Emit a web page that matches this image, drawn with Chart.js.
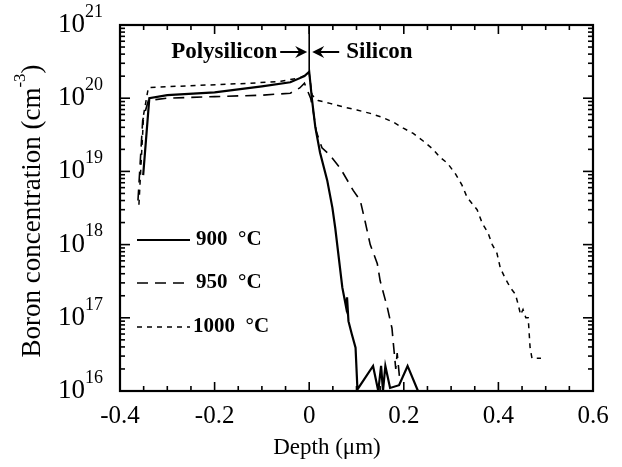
<!DOCTYPE html>
<html><head><meta charset="utf-8">
<script src="https://cdn.jsdelivr.net/npm/chart.js@4.4.0/dist/chart.umd.min.js"></script>
<style>html,body{margin:0;padding:0;background:#fff;} canvas{display:block;}</style>
</head><body>
<canvas id="c" width="622" height="467"></canvas>
<script>
// ---- data ----
const depth900 = [-0.351, -0.338, -0.3, -0.2, -0.1, -0.04, -0.01, 0, 0.006, 0.013, 0.023, 0.038, 0.049, 0.055, 0.07, 0.078, 0.08, 0.083, 0.09, 0.098, 0.102, 0.135, 0.146, 0.152, 0.156, 0.161, 0.171, 0.19, 0.208, 0.23];
const conc900  = [8.9e18, 1.0e20, 1.1e20, 1.2e20, 1.45e20, 1.65e20, 2.0e20, 2.3e20, 9.5e19, 4e19, 1.8e19, 7.6e18, 3.2e18, 1.7e18, 2.6e17, 1.4e17, 1.9e17, 9e16, 6e16, 3.9e16, 1.05e16, 2.2e16, 1.0e16, 2.2e16, 1.0e16, 2.2e16, 1.1e16, 1.2e16, 2.2e16, 1.0e16];

const depth950 = [-0.362, -0.352, -0.34, -0.3, -0.2, -0.1, -0.04, -0.02, -0.01, 0.003, 0.008, 0.015, 0.027, 0.044, 0.066, 0.093, 0.108, 0.118, 0.129, 0.144, 0.150, 0.165, 0.175, 0.178, 0.183, 0.186, 0.192];
const conc950  = [4e18, 5e19, 9.3e19, 1.0e20, 1.05e20, 1.1e20, 1.17e20, 1.38e20, 1.6e20, 1.0e20, 7e19, 3.5e19, 2.1e19, 1.66e19, 1.1e19, 5.5e18, 4e18, 2.1e18, 1.0e18, 5.5e17, 3.2e17, 1.4e17, 7.2e16, 4.4e16, 2.0e16, 3.3e16, 1.3e16];

const depth1000 = [-0.36, -0.35, -0.34, -0.23, -0.125, -0.06, -0.02, 0, 0.006, 0.019, 0.044, 0.072, 0.101, 0.129, 0.154, 0.178, 0.199, 0.220, 0.241, 0.262, 0.277, 0.292, 0.309, 0.323, 0.334, 0.355, 0.366, 0.378, 0.387, 0.397, 0.404, 0.414, 0.425, 0.436, 0.442, 0.447, 0.452, 0.458, 0.463, 0.467, 0.471, 0.484, 0.49];
const conc1000  = [3.5e18, 6e19, 1.4e20, 1.5e20, 1.6e20, 1.7e20, 1.9e20, 2.2e20, 1.1e20, 9.3e19, 8.5e19, 7.6e19, 6.9e19, 6.2e19, 5.5e19, 4.7e19, 3.9e19, 3.3e19, 2.6e19, 2.0e19, 1.55e19, 1.3e19, 9.3e18, 6.5e18, 4.4e18, 3.0e18, 1.95e18, 1.45e18, 1.0e18, 7.6e17, 4.8e17, 3.5e17, 2.6e17, 2.1e17, 1.5e17, 1.1e17, 1.3e17, 1.0e17, 1.0e17, 3.9e16, 2.8e16, 2.8e16, 2.8e16];

const seriesLabels = ['900  °C', '950  °C', '1000  °C'];
const xTickValues = [-0.4, -0.2, 0, 0.2, 0.4, 0.6];
const xTickLabels = ['-0.4', '-0.2', '0', '0.2', '0.4', '0.6'];
const yExponents = [16, 17, 18, 19, 20, 21];
const regionLabels = ['Polysilicon', 'Silicon'];
const xTitle = 'Depth (\u03BCm)';
const yTitleParts = ['Boron concentration (cm', '-3', ')'];

const toPts = (xs, ys) => xs.map((v, i) => ({x: v, y: ys[i]}));
const SERIF = '"Liberation Serif", "DejaVu Serif", serif';

const decor = {
  id: 'decor',
  afterDraw(chart) {
    const {ctx, chartArea: a, scales: {x, y}} = chart;
    ctx.save();
    ctx.strokeStyle = '#000'; ctx.fillStyle = '#000';
    const seg = (x1, y1, x2, y2) => { ctx.beginPath(); ctx.moveTo(x1, y1); ctx.lineTo(x2, y2); ctx.stroke(); };
    // frame
    ctx.lineWidth = 2.2;
    ctx.strokeRect(a.left, a.top, a.right - a.left, a.bottom - a.top);
    // x ticks (inward, both sides)
    ctx.lineWidth = 1.6;
    for (let i = 0; i <= 20; i++) {
      const v = -0.4 + i * 0.05;
      const px = x.getPixelForValue(v);
      const L = (i % 4 === 0) ? 9 : 5;
      seg(px, a.bottom, px, a.bottom - L);
      seg(px, a.top, px, a.top + L);
    }
    // y ticks (log)
    for (let e = yExponents[0]; e < yExponents[yExponents.length - 1]; e++) {
      for (let k = 1; k < 10; k++) {
        const py = y.getPixelForValue(k * Math.pow(10, e));
        const L = k === 1 ? 10 : 5;
        seg(a.left, py, a.left + L, py);
        seg(a.right, py, a.right - L, py);
      }
    }
    // x tick labels
    ctx.font = '25px ' + SERIF;
    ctx.textAlign = 'center'; ctx.textBaseline = 'middle';
    xTickValues.forEach((v, i) => ctx.fillText(xTickLabels[i], x.getPixelForValue(v), a.bottom + 25));
    // y tick labels 10^n
    yExponents.forEach(e => {
      const py = y.getPixelForValue(Math.pow(10, e));
      ctx.font = '27px ' + SERIF;
      ctx.textAlign = 'right'; ctx.textBaseline = 'middle';
      ctx.fillText('10', 85, py);
      ctx.font = '18px ' + SERIF;
      ctx.textAlign = 'left'; ctx.textBaseline = 'middle';
      ctx.fillText(String(e), 85, py - 13);
    });
    // x title
    ctx.font = '23px ' + SERIF;
    ctx.textAlign = 'center'; ctx.textBaseline = 'middle';
    ctx.fillText(xTitle, 327, 448);
    // y title (rotated)
    ctx.save();
    ctx.translate(33, 211);
    ctx.rotate(-Math.PI / 2);
    const bigF = '27px ' + SERIF, supF = '17px ' + SERIF;
    ctx.font = bigF;
    const w0 = ctx.measureText(yTitleParts[0]).width;
    ctx.font = supF;
    const w1 = ctx.measureText(yTitleParts[1]).width;
    ctx.font = bigF;
    const w2 = ctx.measureText(yTitleParts[2]).width;
    let sx = -(w0 + w1 + w2) / 2;
    ctx.textAlign = 'left'; ctx.textBaseline = 'middle';
    ctx.fillText(yTitleParts[0], sx, 0); sx += w0;
    ctx.font = supF;
    ctx.fillText(yTitleParts[1], sx, -12); sx += w1;
    ctx.font = bigF;
    ctx.fillText(yTitleParts[2], sx, 0);
    ctx.restore();
    // interface line at depth 0 up to peak
    const x0 = x.getPixelForValue(0);
    const peakY = y.getPixelForValue(Math.max(...conc900));
    ctx.lineWidth = 1.6;
    seg(x0, a.top, x0, peakY);
    // region labels with arrows
    const ay = 52;
    ctx.font = 'bold 23px ' + SERIF;
    ctx.textBaseline = 'middle';
    ctx.textAlign = 'right';
    ctx.fillText(regionLabels[0], x0 - 32, ay);
    ctx.textAlign = 'left';
    ctx.fillText(regionLabels[1], x0 + 37, ay);
    const arrow = (tail, tip) => {
      const d = Math.sign(tip - tail);
      ctx.lineWidth = 2;
      seg(tail, ay, tip - d * 6, ay);
      ctx.beginPath();
      ctx.moveTo(tip, ay);
      ctx.lineTo(tip - d * 12, ay - 6);
      ctx.lineTo(tip - d * 8, ay);
      ctx.lineTo(tip - d * 12, ay + 6);
      ctx.closePath(); ctx.fill();
    };
    arrow(x0 - 29, x0 - 2);
    arrow(x0 + 30, x0 + 3);
    // legend
    const ds = chart.data.datasets;
    const legY = [240, 283, 327];
    ds.forEach((d, i) => {
      ctx.save();
      ctx.lineWidth = d.borderWidth;
      ctx.setLineDash(d.borderDash || []);
      seg(137, legY[i], 190, legY[i]);
      ctx.restore();
      ctx.font = 'bold 21px ' + SERIF;
      ctx.textAlign = 'left'; ctx.textBaseline = 'middle';
      ctx.fillText(d.label, i === 2 ? 193 : 196, legY[i]);
    });
    ctx.restore();
  }
};

new Chart(document.getElementById('c'), {
  type: 'scatter',
  data: {
    datasets: [
      {label: seriesLabels[0], data: toPts(depth900, conc900), showLine: true, borderColor: '#000', borderWidth: 2.2, pointRadius: 0, borderDash: []},
      {label: seriesLabels[1], data: toPts(depth950, conc950), showLine: true, borderColor: '#000', borderWidth: 1.6, pointRadius: 0, borderDash: [11, 7]},
      {label: seriesLabels[2], data: toPts(depth1000, conc1000), showLine: true, borderColor: '#000', borderWidth: 1.5, pointRadius: 0, borderDash: [5, 5]}
    ]
  },
  options: {
    responsive: false,
    animation: false,
    devicePixelRatio: 1,
    layout: {padding: {left: 120, top: 25, right: 29, bottom: 76}},
    plugins: {legend: {display: false}, tooltip: {enabled: false}},
    scales: {
      x: {type: 'linear', min: -0.4, max: 0.6, display: false},
      y: {type: 'logarithmic', min: 1e16, max: 1e21, display: false}
    }
  },
  plugins: [decor]
});
</script>
</body></html>
